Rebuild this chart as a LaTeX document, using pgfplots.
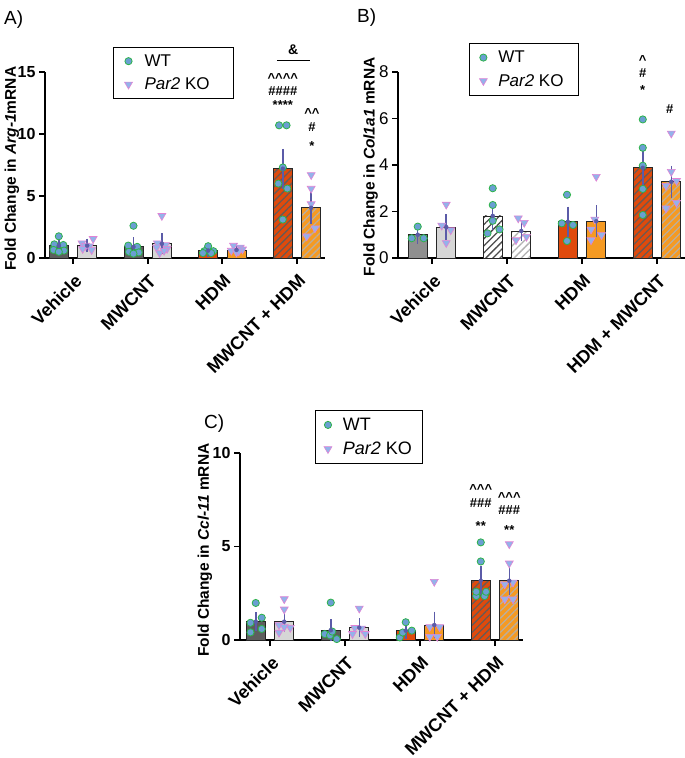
\documentclass[border=0pt]{standalone}
\usepackage{pgfplots}
\pgfplotsset{compat=1.18}
\usepackage{fontspec}
\setmainfont{Liberation Sans}
\usetikzlibrary{patterns.meta}

\definecolor{wtfill}{HTML}{6A9FD2}
\definecolor{wtedge}{HTML}{2DB34A}
\definecolor{kofill}{HTML}{93B3EA}
\definecolor{koedge}{HTML}{E283D4}
\definecolor{errc}{HTML}{5B5BA8}
\definecolor{dgray}{HTML}{5E5E5E}
\definecolor{mgray}{HTML}{8F8F8F}
\definecolor{lgray}{HTML}{D6D6D6}
\definecolor{hdmwt}{HTML}{E04A0C}
\definecolor{hdmko}{HTML}{F59A22}
\definecolor{stripedark}{HTML}{6A5A52}
\definecolor{stripelight}{HTML}{BBAE9E}
\definecolor{stripegray}{HTML}{4A4A4A}
\definecolor{stripelgray}{HTML}{B0B0B0}

\pgfplotsset{
  wtmark/.style={only marks, mark=*, mark size=3.6pt, mark options={fill=wtfill, draw=wtedge, line width=0.8pt}},
  komark/.style={only marks, mark=triangle*, mark size=4.6pt, mark options={rotate=180, fill=kofill, draw=koedge, line width=0.6pt}},
  wtpts/.style={wtmark, forget plot},
  kopts/.style={komark, forget plot},
  errp/.style={errc, only marks, mark=none, forget plot, error bars/.cd, y dir=both, y explicit, error bar style={errc, line width=1.5pt}, error mark options={errc, line width=1.5pt, mark size=5pt}},
  mybar/.style={ybar, bar width=19pt, bar shift=0pt, draw=black!85, line width=0.8pt, forget plot},
  hatchbar/.style 2 args={mybar, fill=#1, postaction={pattern={Lines[angle=45,distance=5pt,line width=1.3pt]}, pattern color=#2}},
  base/.style={
    scale only axis, clip=false,
    axis x line*=bottom, axis y line*=left,
    axis line style={line width=1.8pt, black},
    tick style={line width=1.8pt, black},
    major tick length=6pt, tick align=outside,
    xtick={0,1,2,3},
    xticklabel style={font=\fontsize{18}{18}\selectfont\bfseries, rotate=45, anchor=north east, inner sep=1pt, yshift=-6pt, xshift=-5pt},
    /pgf/number format/assume math mode=true,
    ymin=0,
    legend cell align=left,
  },
}

\begin{document}
\begin{tikzpicture}
\useasboundingbox (0pt,0pt) rectangle (685pt,758pt);

% panel letters
\node[anchor=base west, font=\fontsize{19}{19}\selectfont, inner sep=0] at (4pt,733pt) {A)};
\node[anchor=base west, font=\fontsize{19}{19}\selectfont, inner sep=0] at (357pt,735pt) {B)};
\node[anchor=base west, font=\fontsize{19}{19}\selectfont, inner sep=0] at (204pt,329pt) {C)};

%================ Panel A ================
\begin{axis}[base,
  at={(45pt,500pt)}, anchor=south west,
  width=280pt, height=186pt,
  xmin=-0.375, xmax=3.375, ymax=15,
  ytick={0,5,10,15},
  yticklabel style={font=\fontsize{16}{16}\selectfont\bfseries},
  xticklabels={Vehicle, MWCNT, HDM, MWCNT + HDM},
  ylabel={\bfseries Fold Change in \textit{Arg-1}mRNA},
  ylabel style={font=\fontsize{15.5}{15.5}\selectfont, at={(axis description cs:-0.118,0.48)}, anchor=center},
  legend style={at={(axis description cs:0.243,1.134)}, anchor=north west, font=\fontsize{17}{17}\selectfont,
    draw=black, line width=1pt, inner xsep=11pt, inner ysep=5pt, row sep=6pt,
    /tikz/every odd column/.append style={column sep=10pt}},
]
\addlegendimage{wtmark}
\addlegendentry{WT}
\addlegendimage{komark}
\addlegendentry{\textit{Par2} KO\hspace*{11pt}}
% bars
\addplot[mybar, fill=dgray] coordinates {(-0.19,1.0)};
\addplot[mybar, fill=lgray] coordinates {(0.19,1.0)};
\addplot[mybar, fill=dgray] coordinates {(0.81,0.9)};
\addplot[mybar, fill=lgray] coordinates {(1.19,1.15)};
\addplot[mybar, fill=hdmwt] coordinates {(1.81,0.6)};
\addplot[mybar, fill=hdmko] coordinates {(2.19,0.65)};
\addplot[hatchbar={hdmwt}{stripedark}] coordinates {(2.81,7.2)};
\addplot[hatchbar={hdmko}{stripelight}] coordinates {(3.19,4.05)};
% points
\addplot[wtpts] coordinates {(-0.19,1.75) (-0.25,1.1) (-0.13,1.05) (-0.26,0.65) (-0.12,0.6) (-0.19,0.5)
  (0.81,2.6) (0.74,1.0) (0.86,0.9) (0.75,0.5) (0.88,0.45) (0.81,0.35)
  (1.81,0.95) (1.76,0.55) (1.88,0.55) (1.74,0.4) (1.85,0.4)
  (2.76,10.7) (2.86,10.7) (2.81,7.3) (2.75,6.0) (2.87,5.6) (2.81,3.1)};
\addplot[kopts] coordinates {(0.27,1.55) (0.12,1.2) (0.17,1.0) (0.22,0.95) (0.25,0.65) (0.13,0.75)
  (1.19,3.4) (1.13,1.2) (1.24,1.05) (1.12,0.85) (1.26,0.75) (1.16,0.4) (1.22,0.6)
  (2.15,1.0) (2.24,0.85) (2.12,0.6) (2.27,0.7) (2.19,0.45) (2.22,0.55)
  (3.19,6.7) (3.19,5.6) (3.19,4.35) (3.24,2.4) (3.13,1.75)};
% error bars
\addplot[errp] coordinates {(-0.19,1.0) +- (0,0.2) (0.19,1.0) +- (0,0.15) (0.81,0.9) +- (0,0.35) (1.19,1.15) +- (0,0.45)
  (1.81,0.6) +- (0,0.15) (2.19,0.65) +- (0,0.15) (2.81,7.2) +- (0,1.2) (3.19,4.05) +- (0,0.9)};
% annotations
\node[anchor=base, font=\fontsize{13}{13}\selectfont\bfseries, inner sep=0] at (axis cs:2.81,14.15) {\textasciicircum\textasciicircum\textasciicircum\textasciicircum};
\node[anchor=base, font=\fontsize{13}{13}\selectfont\bfseries, inner sep=0] at (axis cs:2.81,13.1) {\#\#\#\#};
\node[anchor=base, font=\fontsize{13}{13}\selectfont\bfseries, inner sep=0] at (axis cs:2.81,11.94) {****};
\node[anchor=base, font=\fontsize{13}{13}\selectfont\bfseries, inner sep=0] at (axis cs:3.2,11.33) {\textasciicircum\textasciicircum};
\node[anchor=base, font=\fontsize{13}{13}\selectfont\bfseries, inner sep=0] at (axis cs:3.2,10.2) {\#};
\node[anchor=base, font=\fontsize{13}{13}\selectfont\bfseries, inner sep=0] at (axis cs:3.2,8.63) {*};
\node[anchor=base, font=\fontsize{14}{14}\selectfont\bfseries, inner sep=0] at (axis cs:2.95,16.41) {\&};
\draw[line width=1pt] (axis cs:2.73,15.89) -- (axis cs:3.17,15.89);
\end{axis}

%================ Panel B ================
\begin{axis}[base,
  at={(398pt,500pt)}, anchor=south west,
  width=287pt, height=186pt,
  xmin=-0.453, xmax=3.373, ymax=8,
  ytick={0,2,4,6,8},
  yticklabel style={font=\fontsize{17}{17}\selectfont},
  xticklabels={Vehicle, MWCNT, HDM, HDM + MWCNT},
  ylabel={\bfseries Fold Change in \textit{Col1a1} mRNA},
  ylabel style={font=\fontsize{15.5}{15.5}\selectfont, at={(axis description cs:-0.095,0.49)}, anchor=center},
  legend style={at={(axis description cs:0.247,1.156)}, anchor=north west, font=\fontsize{17}{17}\selectfont,
    draw=black, line width=1pt, inner xsep=10pt, inner ysep=5.5pt, row sep=6pt,
    /tikz/every odd column/.append style={column sep=9pt}},
]
\addlegendimage{wtmark}
\addlegendentry{WT}
\addlegendimage{komark}
\addlegendentry{\textit{Par2} KO\hspace*{3pt}}
\addplot[mybar, fill=mgray] coordinates {(-0.19,1.0)};
\addplot[mybar, fill=lgray] coordinates {(0.19,1.33)};
\addplot[hatchbar={white}{stripegray}] coordinates {(0.81,1.81)};
\addplot[hatchbar={white}{stripelgray}] coordinates {(1.19,1.16)};
\addplot[mybar, fill=hdmwt] coordinates {(1.81,1.56)};
\addplot[mybar, fill=hdmko] coordinates {(2.19,1.58)};
\addplot[hatchbar={hdmwt}{stripedark}] coordinates {(2.81,3.88)};
\addplot[hatchbar={hdmko}{stripelight}] coordinates {(3.19,3.28)};
\addplot[wtpts] coordinates {(-0.19,1.35) (-0.27,0.85) (-0.11,0.85)
  (0.81,3.0) (0.81,2.28) (0.81,1.6) (0.74,1.06) (0.90,1.23)
  (1.80,2.72) (1.73,1.49) (1.88,1.42) (1.80,0.73)
  (2.81,5.96) (2.81,4.74) (2.81,3.97) (2.81,2.97) (2.81,1.85)};
\addplot[kopts] coordinates {(0.19,2.3) (0.13,1.4) (0.25,1.2) (0.19,0.65)
  (1.15,1.71) (1.23,1.52) (1.12,0.77) (1.26,0.92)
  (2.19,3.5) (2.17,1.66) (2.12,1.23) (2.26,0.99) (2.12,0.77)
  (3.19,5.36) (3.19,3.71) (3.12,3.11) (3.26,3.32) (3.26,2.38) (3.12,2.14)};
\addplot[errp] coordinates {(-0.19,1.0) +- (0,0.17) (0.19,1.33) +- (0,0.33) (0.81,1.81) +- (0,0.37) (1.19,1.16) +- (0,0.2)
  (1.81,1.56) +- (0,0.43) (2.19,1.58) +- (0,0.48) (2.81,3.88) +- (0,0.69) (3.19,3.28) +- (0,0.47)};
\node[anchor=base, font=\fontsize{13}{13}\selectfont\bfseries, inner sep=0] at (axis cs:2.81,8.34) {\textasciicircum};
\node[anchor=base, font=\fontsize{13}{13}\selectfont\bfseries, inner sep=0] at (axis cs:2.81,7.78) {\#};
\node[anchor=base, font=\fontsize{13}{13}\selectfont\bfseries, inner sep=0] at (axis cs:2.81,7.05) {*};
\node[anchor=base, font=\fontsize{13}{13}\selectfont\bfseries, inner sep=0] at (axis cs:3.17,6.22) {\#};
\end{axis}

%================ Panel C ================
\begin{axis}[base,
  at={(240pt,118pt)}, anchor=south west,
  width=283pt, height=187pt,
  xmin=-0.4, xmax=3.373, ymax=10,
  ytick={0,5,10},
  yticklabel style={font=\fontsize{16}{16}\selectfont\bfseries},
  xticklabels={Vehicle, MWCNT, HDM, MWCNT + HDM},
  ylabel={\bfseries Fold Change in \textit{Ccl-11} mRNA},
  ylabel style={font=\fontsize{15.5}{15.5}\selectfont, at={(axis description cs:-0.124,0.48)}, anchor=center},
  legend style={at={(axis description cs:0.265,1.23)}, anchor=north west, font=\fontsize{18}{18}\selectfont,
    draw=black, line width=1pt, inner xsep=8.5pt, inner ysep=5.5pt, row sep=6pt,
    /tikz/every odd column/.append style={column sep=9pt}},
]
\addlegendimage{wtmark}
\addlegendentry{WT}
\addlegendimage{komark}
\addlegendentry{\textit{Par2} KO}
\addplot[mybar, fill=dgray] coordinates {(-0.19,0.98)};
\addplot[mybar, fill=lgray] coordinates {(0.19,0.98)};
\addplot[mybar, fill=dgray] coordinates {(0.81,0.52)};
\addplot[mybar, fill=lgray] coordinates {(1.19,0.66)};
\addplot[mybar, fill=hdmwt] coordinates {(1.81,0.5)};
\addplot[mybar, fill=hdmko] coordinates {(2.19,0.8)};
\addplot[hatchbar={hdmwt}{stripedark}] coordinates {(2.81,3.17)};
\addplot[hatchbar={hdmko}{stripelight}] coordinates {(3.19,3.17)};
\addplot[wtpts] coordinates {(-0.19,1.98) (-0.11,1.19) (-0.26,0.92) (-0.11,0.59) (-0.26,0.41)
  (0.81,2.0) (0.73,0.32) (0.80,0.25) (0.89,0.05) (0.83,0.45)
  (1.81,0.95) (1.89,0.5) (1.73,0.14) (1.77,0.4)
  (2.81,5.22) (2.81,4.2) (2.75,2.35) (2.86,2.35) (2.75,2.58) (2.88,2.58)};
\addplot[kopts] coordinates {(0.19,2.19) (0.19,1.64) (0.12,0.8) (0.27,0.66) (0.12,0.4) (0.19,0.7)
  (1.19,1.69) (1.13,0.65) (1.22,0.62) (1.10,0.33) (1.27,0.33)
  (2.19,3.12) (2.26,0.7) (2.13,0.7) (2.13,0.18) (2.23,0.18)
  (3.19,5.13) (3.19,4.1) (3.13,2.98) (3.24,3.08) (3.13,2.18) (3.24,2.18)};
\addplot[errp] coordinates {(-0.19,0.98) +- (0,0.23) (0.19,0.98) +- (0,0.27) (0.81,0.52) +- (0,0.32) (1.19,0.66) +- (0,0.23)
  (1.81,0.5) +- (0,0.16) (2.19,0.8) +- (0,0.45) (2.81,3.17) +- (0,0.52) (3.19,3.17) +- (0,0.52)};
\node[anchor=base, font=\fontsize{13}{13}\selectfont\bfseries, inner sep=0] at (axis cs:2.81,7.83) {\textasciicircum\textasciicircum\textasciicircum};
\node[anchor=base, font=\fontsize{13}{13}\selectfont\bfseries, inner sep=0] at (axis cs:2.81,7.09) {\#\#\#};
\node[anchor=base, font=\fontsize{13}{13}\selectfont\bfseries, inner sep=0] at (axis cs:2.81,5.88) {**};
\node[anchor=base, font=\fontsize{13}{13}\selectfont\bfseries, inner sep=0] at (axis cs:3.19,7.41) {\textasciicircum\textasciicircum\textasciicircum};
\node[anchor=base, font=\fontsize{13}{13}\selectfont\bfseries, inner sep=0] at (axis cs:3.19,6.71) {\#\#\#};
\node[anchor=base, font=\fontsize{13}{13}\selectfont\bfseries, inner sep=0] at (axis cs:3.19,5.65) {**};
\end{axis}
\end{tikzpicture}
\end{document}
